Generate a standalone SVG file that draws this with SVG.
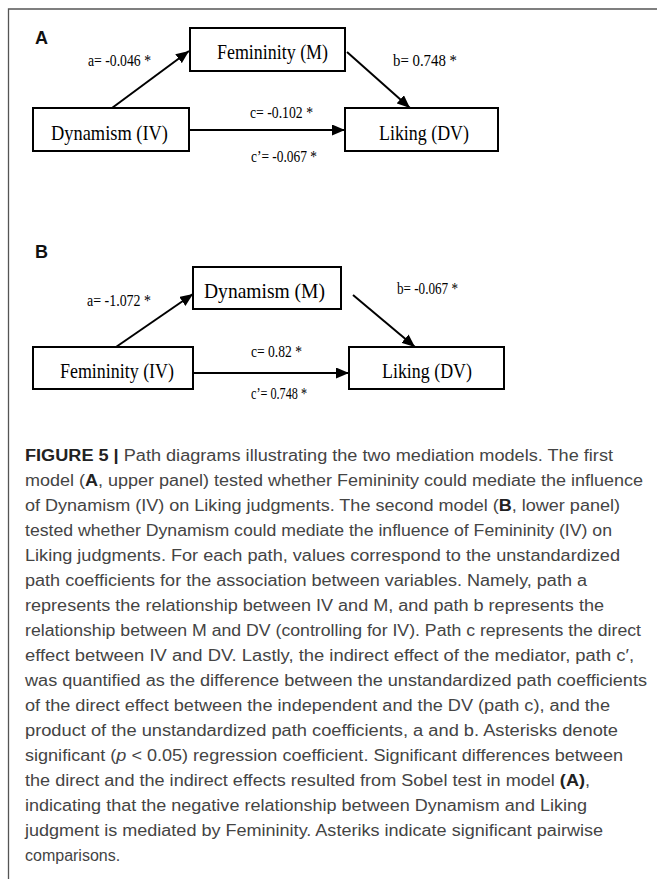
<svg xmlns="http://www.w3.org/2000/svg" width="657" height="881" viewBox="0 0 657 881">
<style>
.box{fill:#fff;stroke:#000;stroke-width:2}
.node{font-family:"Liberation Serif","Times New Roman",serif;font-size:22px;fill:#000}
.lbl{font-family:"Liberation Serif","Times New Roman",serif;font-size:16px;fill:#000}
.edge{stroke:#000;stroke-width:2;fill:none;marker-end:url(#ah)}
.panel{font-family:"Liberation Sans",Arial,sans-serif;font-size:18px;font-weight:bold;fill:#111}
.cap{font-family:"Liberation Sans",Arial,sans-serif;font-size:16px;fill:#444}
.b{font-weight:bold;fill:#222}
.frame{stroke:#555;stroke-width:1.3;fill:none}
</style>
<defs>
<marker id="ah" viewBox="0 0 13 11" refX="13" refY="5.5" markerWidth="13" markerHeight="11" markerUnits="userSpaceOnUse" orient="auto">
<path d="M0,0 L13,5.5 L0,11 z" fill="#000"/>
</marker>
</defs>
<rect width="657" height="881" fill="#fff"/>
<path class="frame" d="M657,9 H8.5 V879"/>

<text class="panel" x="35" y="44">A</text>
<text class="panel" x="35" y="258">B</text>

<g id="connectors">
<line class="edge" x1="112" y1="108" x2="189" y2="51"/>
<line class="edge" x1="347" y1="52" x2="410" y2="108"/>
<line class="edge" x1="190" y1="130" x2="345" y2="130"/>
<line class="edge" x1="116" y1="347" x2="193" y2="294"/>
<line class="edge" x1="353" y1="295" x2="415" y2="347"/>
<line class="edge" x1="194" y1="373" x2="349" y2="373"/>
<text class="lbl" x="88" y="66" textLength="63" lengthAdjust="spacingAndGlyphs">a= -0.046 *</text>
<text class="lbl" x="393" y="66" textLength="64" lengthAdjust="spacingAndGlyphs">b= 0.748 *</text>
<text class="lbl" x="250" y="118" textLength="63" lengthAdjust="spacingAndGlyphs">c= -0.102 *</text>
<text class="lbl" x="251" y="162" textLength="66" lengthAdjust="spacingAndGlyphs">c’= -0.067 *</text>
<text class="lbl" x="87" y="306" textLength="64" lengthAdjust="spacingAndGlyphs">a= -1.072 *</text>
<text class="lbl" x="397" y="294" textLength="61" lengthAdjust="spacingAndGlyphs">b= -0.067 *</text>
<text class="lbl" x="251" y="357" textLength="51" lengthAdjust="spacingAndGlyphs">c= 0.82 *</text>
<text class="lbl" x="251" y="399" textLength="56" lengthAdjust="spacingAndGlyphs">c’= 0.748 *</text>
</g>

<g id="nodeA_M"><rect class="box" x="190" y="28" width="155" height="43"/><text class="node" x="217" y="59" textLength="111" lengthAdjust="spacingAndGlyphs">Femininity (M)</text></g>
<g id="nodeA_IV"><rect class="box" x="33" y="108" width="156" height="43"/><text class="node" x="51" y="140" textLength="117" lengthAdjust="spacingAndGlyphs">Dynamism (IV)</text></g>
<g id="nodeA_DV"><rect class="box" x="345" y="108" width="153" height="43"/><text class="node" x="379" y="140" textLength="90" lengthAdjust="spacingAndGlyphs">Liking (DV)</text></g>

<g id="nodeB_M"><rect class="box" x="193" y="267" width="148" height="42"/><text class="node" x="204" y="298" textLength="121" lengthAdjust="spacingAndGlyphs">Dynamism (M)</text></g>
<g id="nodeB_IV"><rect class="box" x="33" y="347" width="160" height="42"/><text class="node" x="60" y="378" textLength="114" lengthAdjust="spacingAndGlyphs">Femininity (IV)</text></g>
<g id="nodeB_DV"><rect class="box" x="349" y="347" width="155" height="42"/><text class="node" x="382" y="378" textLength="90" lengthAdjust="spacingAndGlyphs">Liking (DV)</text></g>

<g id="caption" class="cap">
<text x="25" y="461" textLength="588" lengthAdjust="spacingAndGlyphs"><tspan class="b">FIGURE 5 |</tspan> Path diagrams illustrating the two mediation models. The first</text>
<text x="25" y="486" textLength="618" lengthAdjust="spacingAndGlyphs">model (<tspan class="b">A</tspan>, upper panel) tested whether Femininity could mediate the influence</text>
<text x="25" y="511" textLength="595" lengthAdjust="spacingAndGlyphs">of Dynamism (IV) on Liking judgments. The second model (<tspan class="b">B</tspan>, lower panel)</text>
<text x="25" y="536" textLength="587" lengthAdjust="spacingAndGlyphs">tested whether Dynamism could mediate the influence of Femininity (IV) on</text>
<text x="25" y="561" textLength="595" lengthAdjust="spacingAndGlyphs">Liking judgments. For each path, values correspond to the unstandardized</text>
<text x="25" y="586" textLength="562" lengthAdjust="spacingAndGlyphs">path coefficients for the association between variables. Namely, path a</text>
<text x="25" y="611" textLength="579" lengthAdjust="spacingAndGlyphs">represents the relationship between IV and M, and path b represents the</text>
<text x="25" y="636" textLength="616" lengthAdjust="spacingAndGlyphs">relationship between M and DV (controlling for IV). Path c represents the direct</text>
<text x="25" y="661" textLength="609" lengthAdjust="spacingAndGlyphs">effect between IV and DV. Lastly, the indirect effect of the mediator, path c′,</text>
<text x="25" y="686" textLength="622" lengthAdjust="spacingAndGlyphs">was quantified as the difference between the unstandardized path coefficients</text>
<text x="25" y="711" textLength="585" lengthAdjust="spacingAndGlyphs">of the direct effect between the independent and the DV (path c), and the</text>
<text x="25" y="736" textLength="593" lengthAdjust="spacingAndGlyphs">product of the unstandardized path coefficients, a and b. Asterisks denote</text>
<text x="25" y="761" textLength="598" lengthAdjust="spacingAndGlyphs">significant (<tspan font-style="italic">p</tspan> &lt; 0.05) regression coefficient. Significant differences between</text>
<text x="25" y="786" textLength="565" lengthAdjust="spacingAndGlyphs">the direct and the indirect effects resulted from Sobel test in model <tspan class="b">(A)</tspan>,</text>
<text x="25" y="811" textLength="562" lengthAdjust="spacingAndGlyphs">indicating that the negative relationship between Dynamism and Liking</text>
<text x="25" y="836" textLength="578" lengthAdjust="spacingAndGlyphs">judgment is mediated by Femininity. Asteriks indicate significant pairwise</text>
<text x="25" y="861">comparisons.</text>
</g>
</svg>
